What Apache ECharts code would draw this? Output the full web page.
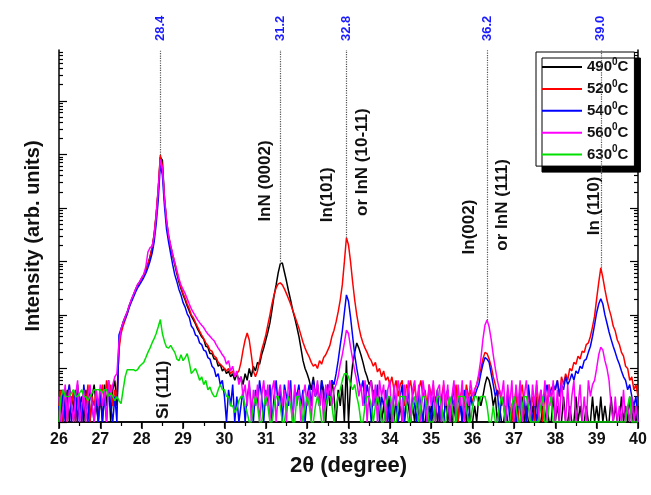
<!DOCTYPE html>
<html><head><meta charset="utf-8">
<script src="https://cdn.jsdelivr.net/npm/echarts@6/dist/echarts.min.js"></script>
<style>html,body{margin:0;padding:0;background:#fff}#c{width:651px;height:495px}</style>
</head><body><div id="c"></div>
<script>
// 2-theta sampling grid (degrees)
const angles = [
26,26.05,26.1,26.15,26.2,26.25,26.3,26.35,26.4,26.45,26.5,26.55,26.6,26.65,26.7,26.75,26.8,26.85,26.9,26.95,
27,27.05,27.1,27.15,27.2,27.25,27.3,27.35,27.4,27.45,27.5,27.55,27.6,27.65,27.7,27.75,27.8,27.85,27.9,27.95,
28,28.05,28.1,28.15,28.2,28.25,28.3,28.35,28.4,28.45,28.5,28.55,28.6,28.65,28.7,28.75,28.8,28.85,28.9,28.95,
29,29.05,29.1,29.15,29.2,29.25,29.3,29.35,29.4,29.45,29.5,29.55,29.6,29.65,29.7,29.75,29.8,29.85,29.9,29.95,
30,30.05,30.1,30.15,30.2,30.25,30.3,30.35,30.4,30.45,30.5,30.55,30.6,30.65,30.7,30.75,30.8,30.85,30.9,30.95,
31,31.05,31.1,31.15,31.2,31.25,31.3,31.35,31.4,31.45,31.5,31.55,31.6,31.65,31.7,31.75,31.8,31.85,31.9,31.95,
32,32.05,32.1,32.15,32.2,32.25,32.3,32.35,32.4,32.45,32.5,32.55,32.6,32.65,32.7,32.75,32.8,32.85,32.9,32.95,
33,33.05,33.1,33.15,33.2,33.25,33.3,33.35,33.4,33.45,33.5,33.55,33.6,33.65,33.7,33.75,33.8,33.85,33.9,33.95,
34,34.05,34.1,34.15,34.2,34.25,34.3,34.35,34.4,34.45,34.5,34.55,34.6,34.65,34.7,34.75,34.8,34.85,34.9,34.95,
35,35.05,35.1,35.15,35.2,35.25,35.3,35.35,35.4,35.45,35.5,35.55,35.6,35.65,35.7,35.75,35.8,35.85,35.9,35.95,
36,36.05,36.1,36.15,36.2,36.25,36.3,36.35,36.4,36.45,36.5,36.55,36.6,36.65,36.7,36.75,36.8,36.85,36.9,36.95,
37,37.05,37.1,37.15,37.2,37.25,37.3,37.35,37.4,37.45,37.5,37.55,37.6,37.65,37.7,37.75,37.8,37.85,37.9,37.95,
38,38.05,38.1,38.15,38.2,38.25,38.3,38.35,38.4,38.45,38.5,38.55,38.6,38.65,38.7,38.75,38.8,38.85,38.9,38.95,
39,39.05,39.1,39.15,39.2,39.25,39.3,39.35,39.4,39.45,39.5,39.55,39.6,39.65,39.7,39.75,39.8,39.85,39.9,39.95,40];

// Intensities (arb. units, log scale)
const i490 = [
1,3,1,2,4,1,3,2,1,5,2,3,1,4,2,1,3,5,2,1,
3,1,5,2,6,1,4,6,2,27,52,74,92,113,152,190,237,294,364,412,
490,560,694,900,1210,1780,3120,7340,21500,88800,78000,15000,5440,2850,1860,1260,860,585,412,307,
237,190,147,118,95,81,68,55,46,39,35,26,25,19,19,15,15,11,12,9,
10,8,9,7,8,6,8,6,7,5,8,6,10,7,11,9,13,12,18,24,
34,48,71,124,226,364,610,900,940,634,430,280,190,124,88,60,40,24,14,10,
8,6,4,7,3,5,2,6,3,1,5,2,6,3,1,4,2,5,1,14,
1,5,12,20,30,24,18,13,9,7,5,6,3,4,2,3,1,2,1,3,
1,2,1,3,1,2,1,1,3,2,1,2,1,3,1,2,1,1,2,1,
2,1,3,1,2,1,1,3,1,2,1,2,1,1,3,1,2,1,3,1,
1,2,1,3,2,3,5,7,6,4,2,3,1,2,1,1,2,1,1,2,
1,2,1,1,3,1,2,1,1,2,1,3,1,1,2,1,2,1,1,3,
1,2,1,1,3,1,1,2,1,1,3,1,2,1,1,2,1,1,3,1,
2,1,3,1,2,1,1,3,1,2,1,1,3,1,2,1,3,1,2,1,2];
const i520 = [
2,4,1,3,1,5,2,4,1,3,2,1,4,2,5,1,3,2,4,1,
3,5,2,6,3,5,2,4,3,22,45,62,80,105,145,185,230,290,350,400,
470,540,680,880,1200,1800,3200,7800,24000,97000,60000,16000,6000,3100,2000,1350,950,640,450,330,
250,205,160,130,100,88,72,60,50,42,36,30,27,22,21,17,16,13,12,11,
10,9,10,8,9,7,8,9,13,22,34,46,34,18,9,7,9,14,22,30,
42,65,100,160,237,320,380,397,364,307,250,200,160,124,96,74,57,42,31,24,
19.5,16.4,13,11,12,10,14,12,16,18,22,27,40,52,74,114,190,364,980,2770,
2030,980,412,190,100,60,40,30,24,20,16,14,11,13,8.6,10,7,9,6,7,
5,7,4,6,3,5,6,2,5,4,6,3,5,2,4,6,3,4,2,5,
3,5,2,4,1,3,5,2,4,1,3,2,5,1,3,4,2,5,3,4,
2,4,5,7,10,15,20,19,15,11,7,5,3,4,2,3,1,4,2,1,
2,4,1,3,5,2,1,4,2,3,1,5,2,3,1,4,2,5,3,4,
4,6,3,7,5,8,6,10,9,13,12,17,15,21,20,28,30,40,60,95,
200,400,760,500,300,190,130,95,62,50,34,28,20,17,11,10,6,7,4,5,3];
const i540 = [
2,1,4,1,3,5,1,2,4,1,3,1,5,2,1,4,2,1,3,1,
4,1,3,1,5,2,1,3,1,42,55,70,85,105,140,175,215,265,320,370,
430,500,600,760,1000,1400,2300,5000,14000,65000,41000,11000,4000,2300,1400,860,560,420,300,235,
170,140,105,90,62,55,42,40,30,28,22,21,16,15,11,10,7,8,5,6,
3,1,4,2,5,1,3,1,2,4,1,3,5,2,1,4,2,6,3,1,
4,2,5,1,3,6,2,4,1,5,3,2,6,1,4,3,5,2,4,1,
3,5,2,6,3,5,2,6,4,2,5,3,6,5,8,14,27,50,110,237,
180,90,40,18,10,6,4,6,2,5,3,1,4,2,5,1,3,2,4,1,
3,1,4,2,1,3,5,1,2,4,1,3,2,1,4,2,1,3,1,2,
1,3,2,4,1,2,1,3,4,1,2,5,1,3,2,1,4,2,1,3,
2,3,4,5,8,12,16,15,13,8,5,3,4,1,3,2,1,4,1,2,
3,1,2,4,1,3,1,5,2,1,3,1,2,4,2,3,5,3,4,5,
4,6,3,5,4,7,5,6,8,6,9,8,11,10,14,15,20,26,40,65,
110,160,200,160,100,70,48,35,26,20,15,12,9,7,6,4,5,3,2,3,1];
const i560 = [
3,1,2,5,1,4,2,1,3,6,1,2,4,1,3,5,2,1,4,2,
5,2,4,1,6,3,5,7,8,30,55,72,92,115,150,195,240,300,370,420,
500,580,800,1500,1800,1900,2900,7000,22000,80000,55000,15000,5800,3000,1950,1350,950,680,480,360,
300,250,200,160,130,110,95,82,72,64,58,50,44,40,36,33,28,24,21,18,
16,12,14,9,11,7,9,5,7,3,5,2,6,1,4,2,5,1,3,6,
2,5,1,4,6,1,3,5,2,4,1,6,3,1,5,2,4,1,3,5,
2,4,1,5,3,6,2,4,1,5,3,6,2,4,5,7,12,18,30,52,
45,25,15,9,6,3,5,2,6,1,4,6,2,5,1,6,3,5,1,4,
6,1,5,2,6,3,1,5,2,6,1,4,6,2,5,1,6,3,1,5,
2,6,1,4,5,1,6,2,5,1,3,6,1,5,2,6,1,4,2,6,
3,4,5,8,15,35,65,80,60,35,18,10,6,4,3,6,1,5,2,6,
1,5,2,6,1,3,6,2,1,5,2,6,1,4,2,6,1,5,2,6,
1,4,1,6,2,1,5,1,3,6,1,2,5,1,3,1,6,3,5,6,
10,18,25,22,14,10,6,2,1,3,1,2,1,4,1,2,1,3,1,2,1];
const i630 = [
1,3,4,3,3,3,3.5,4,3,3,3.5,4,3,3,2.5,3,3.5,4,4,4,
4,3.5,4,4,3,3.5,3,2.5,3,2.5,2.2,4,7,9.5,9.5,9.5,9.5,9,9.5,11,
12,13,16,20,24,30,36,45,60,82,45,32,25,24,27,23,20,15,14,18,
14,16,19,13,8,9,10,8,6,7,5,6,4,4.5,3.5,3,3,4,5,4,
4,3,3,2,2,1.5,1.8,2.5,3,3,2,1.5,1,1,2,3,2,1,1,2,
3,2,1,1,2,3,3,2,1,1,2,3,2,1,1,3,3,2,1,2,
3,2,1,1,2,3,2,1,1,2,3,3,2,1,2,3,4,6,8,8,
7,5,4,5,3,2,1,1,2,3,3,2,1,2,3,2,1,1,2,3,
3,2,1,1,2,3,3,3,2,1,1,2,3,2,1,2,3,3,2,1,
1,1,2,3,3,2,1,1,2,3,2,1,1,3,3,3,3,2,1,1,
2,3,3,2,3,3,3,2,1,1,2,1,1,2,3,2,1,1,1,2,
3,2,1,1,2,3,3,2,1,1,1,1,1,2,3,1,1,2,3,1,
1,1,1,1,1,1,1,1,1,1,1,1,1,1,1,1,1,1,1,1,
1,1,1,1,1,1,1,1,1,1,1,1,1,1,1,2,3,1,1,1,1];

const seriesNames = ['490°C','520°C','540°C','560°C','630°C'];
const seriesValues = [i490, i520, i540, i560, i630];
const seriesColors = ['#000000','#ff0000','#0000ff','#ff00ff','#00e000'];

// reference peak positions (dotted lines) and their top-axis labels
const peakPos = [28.45, 31.35, 32.95, 36.35, 39.1];
const peakLabels = ['28.4','31.2','32.8','36.2','39.0'];

const xMin = 26, xMax = 40;
const yMin = 1, yMax = 8.9e6;

// peak annotations: text and anchor in data coordinates [2theta, intensity]
const noteTexts = ['Si (111)','InN (0002)','In(101)','or InN (10-11)','In(002)','or InN (111)','In (110)'];
const noteAnchors = [[28.52,4],[30.98,31800],[32.49,17600],[33.34,71600],[35.92,4390],[36.73,11400],[38.95,10900]];

const FONT = 'Liberation Sans, Arial, Helvetica, sans-serif';
const chart = echarts.init(document.getElementById('c'), null, {renderer:'canvas', width:651, height:495});

const L = Math.log10(yMax);
const majorLog = [0,1,2,3,4,5,6];
const minorLog = [];
for (let n = 0; n <= 6; n++) for (let k = 2; k <= 9; k++) { const v = n + Math.log10(k); if (v < L) minorLog.push(v); }

const bad = seriesValues.some(s => s.length !== angles.length);

const lineData = peakPos.map(p => {
  const i = angles.indexOf(p);
  const top = Math.max(...seriesValues.map(s => s[i]));
  return [{coord:[p, top]}, {coord:[p, yMax]}];
});

const tickAxis = (pos, vals, len, showLine) => ({
  type:'value', gridIndex:0, position:pos, min:0, max:L,
  axisLine:{show:showLine, lineStyle:{color:'#000', width:1.5}},
  axisTick:{show:true, inside:true, length:len, customValues:vals, lineStyle:{color:'#000', width:1.2}},
  axisLabel:{show:false}, splitLine:{show:false}
});

const series = seriesNames.map((nm, si) => ({
  type:'line', name:nm, xAxisIndex:0, yAxisIndex:0,
  data: angles.map((a, i) => [a, seriesValues[si][i]]),
  symbol:'none', showSymbol:false,
  lineStyle:{color:seriesColors[si], width:1.5},
  itemStyle:{color:seriesColors[si]},
  animation:false
}));
series[0].markLine = {
  silent:true, symbol:['none','none'], label:{show:false},
  lineStyle:{type:'dotted', color:'#555', width:1.2},
  data: lineData
};

chart.setOption({
  animation:false,
  title: bad ? {text:'length mismatch', left:'center'} : undefined,
  grid:{left:59, right:13, top:50, bottom:73, containLabel:false},
  legend:{
    left:536, top:52, orient:'vertical',
    data: seriesNames,
    icon:'rect', itemWidth:40, itemHeight:2, itemGap:4.4,
    padding:[5,6,4,6],
    backgroundColor:'#fff', borderColor:'#000', borderWidth:1,
    shadowColor:'#000', shadowBlur:0, shadowOffsetX:6, shadowOffsetY:6,
    formatter: nm => '{n|' + nm.replace('°C','') + '}{s|0}{n|C}',
    textStyle:{fontSize:15, fontWeight:'bold', color:'#111', fontFamily:FONT,
      rich:{
        n:{fontSize:15, fontWeight:'bold', fontFamily:FONT, color:'#111', lineHeight:20, verticalAlign:'middle'},
        s:{fontSize:10, fontWeight:'bold', fontFamily:FONT, color:'#111', lineHeight:10, verticalAlign:'top'}}}
  },
  xAxis:[
    {type:'value', position:'bottom', min:xMin, max:xMax, interval:1,
     axisLine:{lineStyle:{color:'#000', width:1.5}},
     axisTick:{inside:false, length:7, lineStyle:{color:'#000', width:1.5}},
     minorTick:{show:true, splitNumber:2, length:4, lineStyle:{color:'#000', width:1.2}},
     axisLabel:{fontSize:16, fontWeight:'bold', color:'#111', fontFamily:FONT, margin:10},
     splitLine:{show:false},
     name:'2θ (degree)', nameLocation:'middle', nameGap:33,
     nameTextStyle:{fontSize:22, fontWeight:'bold', color:'#111', fontFamily:FONT}},
    {type:'value', position:'top', min:xMin, max:xMax, interval:1,
     axisLine:{lineStyle:{color:'#000', width:1.5}},
     axisTick:{inside:true, length:6, lineStyle:{color:'#000', width:1.2}},
     axisLabel:{show:true, customValues:peakPos, rotate:90, margin:9,
       formatter: v => peakLabels[peakPos.indexOf(v)] || '',
       color:'#1a1aff', fontWeight:'bold', fontSize:13, fontFamily:FONT},
     splitLine:{show:false}}
  ],
  yAxis:[
    {type:'log', logBase:10, min:yMin, max:yMax, position:'left',
     axisLine:{show:true, lineStyle:{color:'#000', width:1.5}},
     axisTick:{show:false}, axisLabel:{show:false}, splitLine:{show:false}, minorTick:{show:false},
     name:'Intensity (arb. units)', nameLocation:'middle', nameGap:16,
     nameTextStyle:{fontSize:20, fontWeight:'bold', color:'#111', fontFamily:FONT}},
    tickAxis('left', majorLog, 8, false),
    tickAxis('left', minorLog, 4, false),
    tickAxis('right', majorLog, 8, true),
    tickAxis('right', minorLog, 4, false)
  ],
  series: series
});

const graphics = noteTexts.map((t, i) => {
  const p = chart.convertToPixel({xAxisIndex:0, yAxisIndex:0}, noteAnchors[i]);
  return {type:'text', x:p[0], y:p[1], rotation:Math.PI/2, z:50,
    style:{text:t, fontSize:17, fontWeight:'bold', fontFamily:FONT, fill:'#111',
      align:'center', verticalAlign:'middle'}};
});
chart.setOption({graphic: graphics});
</script></body></html>
